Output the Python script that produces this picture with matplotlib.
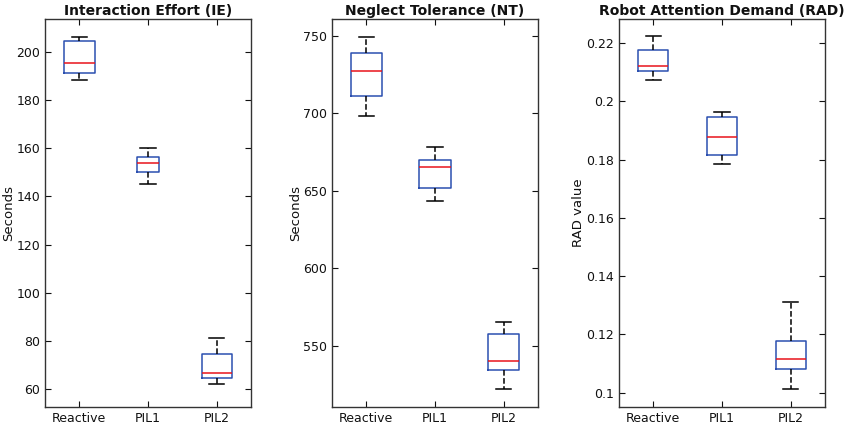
import matplotlib
matplotlib.use("Agg")
import matplotlib.pyplot as plt

BOX_COLOR = "#2B4FB0"
MEDIAN_COLOR = "#E8141B"
TEXT_COLOR = "#111111"

groups = ["Reactive", "PIL1", "PIL2"]

# Interaction Effort (IE), seconds
ie_whislo = [188.1, 145.1, 62.4]
ie_q1 = [191.2, 150.0, 64.7]
ie_med = [195.2, 153.7, 67.0]
ie_q3 = [204.6, 156.4, 74.7]
ie_whishi = [206.1, 160.2, 81.3]

# Neglect Tolerance (NT), seconds
nt_whislo = [698.2, 643.5, 522.1]
nt_q1 = [711.1, 652.1, 534.2]
nt_med = [727.4, 665.4, 540.2]
nt_q3 = [739.2, 670.0, 557.4]
nt_whishi = [749.4, 678.3, 565.2]

# Robot Attention Demand (RAD)
rad_whislo = [0.2072, 0.1786, 0.1012]
rad_q1 = [0.2106, 0.1817, 0.1083]
rad_med = [0.2123, 0.1877, 0.1115]
rad_q3 = [0.2175, 0.1948, 0.1179]
rad_whishi = [0.2223, 0.1965, 0.1311]

panels = [
    ("Interaction Effort (IE)", "Seconds", ie_whislo, ie_q1, ie_med, ie_q3, ie_whishi,
     (52.7, 213.6), [60, 80, 100, 120, 140, 160, 180, 200], ["60", "80", "100", "120", "140", "160", "180", "200"],
     [0.45, 0.32, 0.44]),
    ("Neglect Tolerance (NT)", "Seconds", nt_whislo, nt_q1, nt_med, nt_q3, nt_whishi,
     (510.4, 761.0), [550, 600, 650, 700, 750], ["550", "600", "650", "700", "750"],
     [0.46, 0.46, 0.45]),
    ("Robot Attention Demand (RAD)", "RAD value", rad_whislo, rad_q1, rad_med, rad_q3, rad_whishi,
     (0.0951, 0.2283), [0.1, 0.12, 0.14, 0.16, 0.18, 0.2, 0.22], ["0.1", "0.12", "0.14", "0.16", "0.18", "0.2", "0.22"],
     [0.44, 0.45, 0.44]),
]

fig = plt.figure(figsize=(8.45, 4.28), dpi=100)
lefts = [45, 332, 619]
for (title, ylabel, lo, q1, med, q3, hi, ylim, yticks, yticklabels, widths), left in zip(panels, lefts):
    ax = fig.add_axes([left / 845, 21 / 428, 206 / 845, 388 / 428])
    stats = []
    for name, a, b, c, d, e in zip(groups, lo, q1, med, q3, hi):
        stats.append({"label": name, "whislo": a, "q1": b, "med": c, "q3": d, "whishi": e, "fliers": []})
    ax.bxp(
        stats,
        widths=widths,
        showfliers=False,
        boxprops=dict(color=BOX_COLOR, linewidth=1.1),
        medianprops=dict(color=MEDIAN_COLOR, linewidth=1.1),
        whiskerprops=dict(color="black", linestyle="--", linewidth=1.1),
        capprops=dict(color="black", linewidth=1.1),
        capwidths=0.22,
    )
    ax.set_xlim(0.5, 3.5)
    ax.set_ylim(*ylim)
    ax.set_yticks(yticks)
    ax.set_yticklabels(yticklabels)
    ax.set_title(title, fontsize=10, weight="bold", color=TEXT_COLOR, pad=3)
    ax.set_ylabel(ylabel, fontsize=9.5, color=TEXT_COLOR, labelpad=1)
    ax.tick_params(direction="in", top=True, right=True, labelsize=9, colors=TEXT_COLOR, length=4)
    for spine in ax.spines.values():
        spine.set_color("#333333")
        spine.set_linewidth(1.0)

fig.savefig("out.png", dpi=100)
